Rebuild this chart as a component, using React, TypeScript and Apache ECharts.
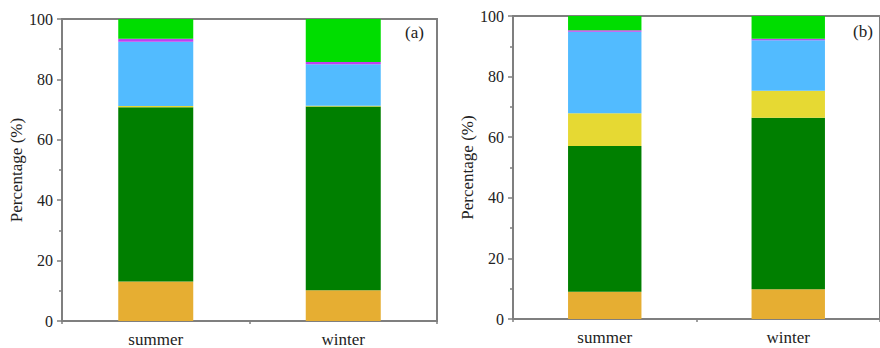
import React, { useEffect, useRef } from "react";
import * as echarts from "echarts";

const categories = ["summer", "winter"];
const yTicks = [0, 20, 40, 60, 80, 100];

// Panel (a)
const aOrange = [13.1, 10.2];
const aDarkGreen = [57.7, 60.8];
const aYellow = [0.4, 0.3];
const aBlue = [21.3, 13.7];
const aMagenta = [1.0, 0.8];
const aGreen = [6.5, 14.2];

// Panel (b)
const bOrange = [9.0, 9.8];
const bDarkGreen = [48.1, 56.6];
const bYellow = [10.8, 8.9];
const bBlue = [26.9, 16.7];
const bMagenta = [0.5, 0.5];
const bGreen = [4.7, 7.5];

const panelLabels = ["(a)", "(b)"];

const colors = ["#E6AE32", "#007F00", "#E6D933", "#52BBFF", "#C040F0", "#00DD00"];
const names = ["s1", "s2", "s3", "s4", "s5", "s6"];

const FONT = "Liberation Serif";
const AXIS_COLOR = "#7f7f7f";

export default function App() {
  const ref = useRef<HTMLDivElement>(null);
  useEffect(() => {
    if (!ref.current) return;
    const chart = echarts.init(ref.current, undefined, { renderer: "svg" });
    const grids = [
      { left: 62, top: 19, width: 375, height: 302 },
      { left: 513, top: 16, width: 372, height: 303 },
    ];
    const panelData = [
      [aOrange, aDarkGreen, aYellow, aBlue, aMagenta, aGreen],
      [bOrange, bDarkGreen, bYellow, bBlue, bMagenta, bGreen],
    ];
    const xAxis: any[] = [];
    const yAxis: any[] = [];
    const series: any[] = [];
    grids.forEach((g, i) => {
      xAxis.push({
        type: "category",
        gridIndex: i,
        data: categories,
        axisLine: { lineStyle: { color: AXIS_COLOR, width: 2 } },
        axisTick: { alignWithLabel: true, length: 5, lineStyle: { color: AXIS_COLOR, width: 1.5 } },
        axisLabel: { fontFamily: FONT, fontSize: 17, color: "#222", margin: 10 },
      });
      xAxis.push({
        type: "category",
        gridIndex: i,
        data: categories,
        position: "bottom",
        axisLine: { show: false },
        axisTick: { show: true, length: 3, lineStyle: { color: AXIS_COLOR, width: 1.5 } },
        axisLabel: { show: false },
      });
      yAxis.push({
        type: "value",
        gridIndex: i,
        min: 0,
        max: 100,
        interval: 20,
        name: "Percentage (%)",
        nameLocation: "middle",
        nameGap: 37,
        nameTextStyle: { fontFamily: FONT, fontSize: 17, color: "#222" },
        axisLine: { show: true, lineStyle: { color: AXIS_COLOR, width: 2 } },
        axisTick: { show: true, length: 5, lineStyle: { color: AXIS_COLOR, width: 1.5 } },
        minorTick: { show: true, splitNumber: 2, length: 3, lineStyle: { color: AXIS_COLOR, width: 1.5 } },
        splitLine: { show: false },
        axisLabel: {
          fontFamily: FONT,
          fontSize: 16,
          color: "#222",
          margin: 9,
          formatter: (v: number) => (yTicks.includes(v) ? String(v) : ""),
        },
      });
      panelData[i].forEach((d, k) => {
        series.push({
          type: "bar",
          name: names[k] + (i === 0 ? "a" : "b"),
          xAxisIndex: i * 2,
          yAxisIndex: i,
          stack: "p" + i,
          barWidth: "40%",
          data: d,
          itemStyle: { color: colors[k] },
        });
      });
    });
    chart.setOption({
      animation: false,
      grid: grids.map((g) => ({
        ...g,
        show: true,
        borderColor: AXIS_COLOR,
        borderWidth: 2,
        backgroundColor: "transparent",
      })),
      xAxis,
      yAxis,
      series,
      graphic: [
        {
          type: "text",
          left: 405,
          top: 24,
          style: { text: panelLabels[0], font: `17px "${FONT}"`, fill: "#222" },
        },
        {
          type: "text",
          left: 853,
          top: 23,
          style: { text: panelLabels[1], font: `17px "${FONT}"`, fill: "#222" },
        },
      ],
    });
    return () => chart.dispose();
  }, []);
  return (
    <div
      ref={ref}
      style={{ position: "fixed", left: 0, top: 0, width: 880, height: 348, background: "#fff" }}
    />
  );
}
